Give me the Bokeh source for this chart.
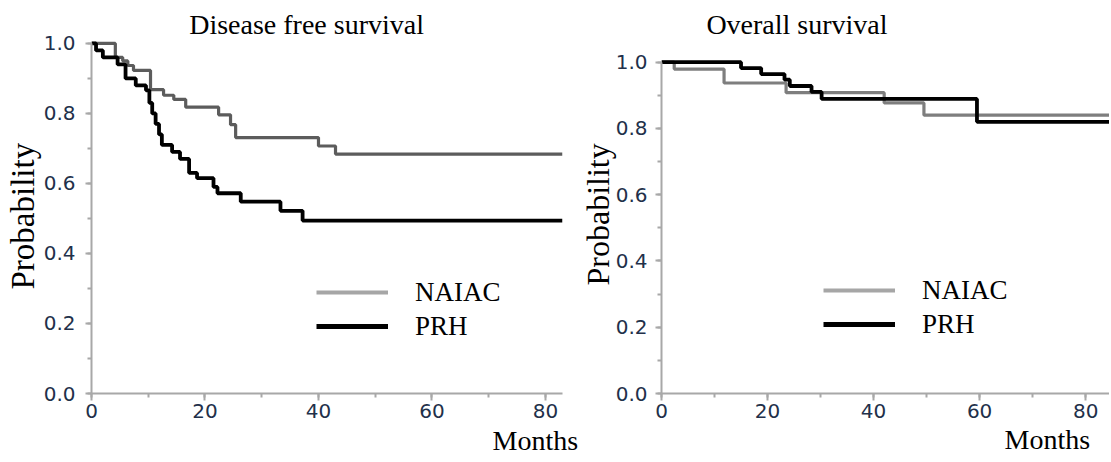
from bokeh.plotting import figure
from bokeh.models import Legend, LegendItem, SingleIntervalTicker, NumeralTickFormatter, Title, Label
from bokeh.layouts import row
from bokeh.embed import file_html
from bokeh.resources import INLINE

# ---- data ----
dfs_naiac_t = [0, 4.2, 5.5, 6.4, 7.4, 10.4, 12.7, 14.5, 16.6, 22.4, 24.5, 25.4, 40, 43, 83]
dfs_naiac_s = [1.0, 0.96, 0.95, 0.937, 0.923, 0.868, 0.852, 0.84, 0.818, 0.796, 0.768, 0.731, 0.707, 0.684, 0.684]

dfs_prh_t = [0, 0.8, 2, 4.6, 6, 7.8, 9.6, 10.2, 10.7, 11.3, 11.9, 12.4, 14.2, 15.6, 17.2, 18.6, 21.5, 22.2, 26.3, 33.3, 37.2, 83]
dfs_prh_s = [1.0, 0.98, 0.96, 0.94, 0.90, 0.88, 0.866, 0.83, 0.80, 0.77, 0.74, 0.71, 0.69, 0.67, 0.63, 0.615, 0.59, 0.572, 0.548, 0.522, 0.494, 0.494]

os_naiac_t = [0, 2.4, 11.8, 23.5, 42, 49.5, 85]
os_naiac_s = [1.0, 0.979, 0.937, 0.908, 0.877, 0.84, 0.84]

os_prh_t = [0, 15, 18.8, 23.2, 24.2, 28.3, 30.2, 59.5, 85]
os_prh_s = [1.0, 0.982, 0.964, 0.947, 0.928, 0.91, 0.889, 0.82, 0.82]

group_names = ["NAIAC", "PRH"]
titles = ["Disease free survival", "Overall survival"]
y_label = "Probability"
x_label = "Months"

SERIF = "Liberation Serif"
TICKFONT = "DejaVu Sans"
AXIS_COL = "#a8a8a8"
TICK_TXT = "#22304a"


def style_axes(p, xmax, ystandoff):
    p.xaxis.ticker = SingleIntervalTicker(interval=20, num_minor_ticks=2)
    p.yaxis.ticker = SingleIntervalTicker(interval=0.2, num_minor_ticks=2)
    p.yaxis.formatter = NumeralTickFormatter(format="0.0")
    p.xaxis.bounds = (0, xmax)
    p.yaxis.bounds = (0, 1)
    for ax in (p.xaxis, p.yaxis):
        ax.axis_line_color = AXIS_COL
        ax.axis_line_width = 2
        ax.major_tick_line_color = AXIS_COL
        ax.minor_tick_line_color = AXIS_COL
        ax.major_tick_line_width = 2
        ax.minor_tick_line_width = 2
        ax.major_tick_in = 0
        ax.minor_tick_in = 0
        ax.major_label_text_font = TICKFONT
        ax.major_label_text_font_size = "20px"
        ax.major_label_text_color = TICK_TXT
    p.xaxis.major_tick_out = 7
    p.xaxis.minor_tick_out = 4
    p.yaxis.major_tick_out = 6
    p.yaxis.minor_tick_out = 4
    p.xaxis.major_label_standoff = 3
    p.yaxis.major_label_standoff = ystandoff
    p.xgrid.visible = False
    p.ygrid.visible = False
    p.outline_line_color = None


def add_legend(p, gray_col, x_off, y_off):
    # legend-only renderers, their data lie outside the visible ranges
    r1 = p.line(x=[-20, -19], y=[-5, -5], line_color=gray_col, line_width=4)
    r2 = p.line(x=[-20, -19], y=[-5, -5], line_color="black", line_width=5)
    leg = Legend(items=[LegendItem(label=group_names[0], renderers=[r1]),
                        LegendItem(label=group_names[1], renderers=[r2])],
                 location=(x_off, y_off), orientation="vertical",
                 glyph_width=72, glyph_height=34, label_height=34,
                 label_standoff=27, spacing=0, padding=0, margin=0,
                 border_line_alpha=0, background_fill_alpha=0,
                 label_text_font=SERIF, label_text_font_size="27px",
                 label_text_color="black")
    p.add_layout(leg)


def add_texts(p, title, tx, ty, months_offset, months_standoff, ylab_offset, ylab_standoff, ylab_size):
    p.add_layout(Label(x=tx, y=ty, text=title, text_font=SERIF, text_font_size="28px",
                       text_align="center", text_baseline="middle", text_color="black"))
    p.add_layout(Title(text=x_label, align="left", offset=months_offset, standoff=months_standoff,
                       text_font=SERIF, text_font_size="28px", text_font_style="normal",
                       text_color="black"), "below")
    p.add_layout(Title(text=y_label, align="left", offset=ylab_offset, standoff=ylab_standoff,
                       text_font=SERIF, text_font_size=ylab_size, text_font_style="normal",
                       text_color="black"), "left")


# ---- left panel ----
p1 = figure(width=580, height=460, x_range=(0, 83), y_range=(0, 1.117), title=None,
            output_backend="svg", toolbar_location=None,
            min_border_left=91, min_border_right=18, min_border_top=2, min_border_bottom=67)
style_axes(p1, 83, 10)
p1.step(dfs_naiac_t, dfs_naiac_s, mode="after", line_color="#5c5c5c", line_width=3.2)
p1.step(dfs_prh_t, dfs_prh_s, mode="after", line_color="black", line_width=3.8)
add_legend(p1, "#a6a6a6", 225, 50)
add_texts(p1, titles[0], 37.9, 1.054, 401, 5, 104, 0, "33px")

# ---- right panel ----
p2 = figure(width=529, height=460, x_range=(0, 84.5), y_range=(0, 1.18), title=None,
            output_backend="svg", toolbar_location=None,
            min_border_left=77, min_border_right=0, min_border_top=2, min_border_bottom=65)
style_axes(p2, 84.5, 8)
p2.step(os_naiac_t, os_naiac_s, mode="after", line_color="#7e7e7e", line_width=3.2)
p2.step(os_prh_t, os_prh_s, mode="after", line_color="black", line_width=3.8)
add_legend(p2, "#a6a6a6", 162, 52)
add_texts(p2, titles[1], 25.55, 1.114, 343, 2, 108, -6, "32px")

layout = row(p1, p2, spacing=0)
open("out.html", "w").write(file_html(layout, INLINE))
